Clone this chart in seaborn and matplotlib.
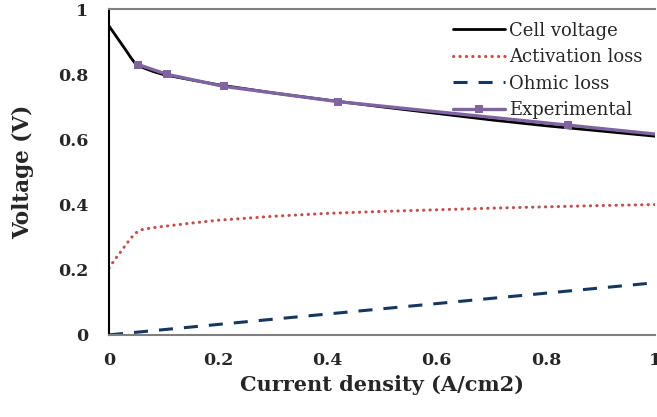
import matplotlib
matplotlib.use("Agg")
import matplotlib.pyplot as plt
import seaborn as sns
import pandas as pd

# Model curves (A/cm2 -> V)
model_current = [0.0, 0.01, 0.02, 0.03, 0.04, 0.05, 0.06, 0.08, 0.1, 0.15,
                 0.2, 0.3, 0.4, 0.5, 0.6, 0.7, 0.8, 0.9, 1.0]
cell_voltage = [0.948, 0.924, 0.900, 0.876, 0.851, 0.829, 0.822, 0.809, 0.799, 0.783,
                0.768, 0.743, 0.721, 0.700, 0.680, 0.660, 0.642, 0.626, 0.610]
activation_loss = [0.205, 0.230, 0.252, 0.275, 0.297, 0.314, 0.323, 0.329, 0.333, 0.343,
                   0.352, 0.364, 0.373, 0.379, 0.384, 0.389, 0.393, 0.397, 0.400]
ohmic_loss = [0.000, 0.0016, 0.0032, 0.0048, 0.0064, 0.008, 0.0096, 0.0128, 0.016, 0.024,
              0.032, 0.048, 0.064, 0.080, 0.096, 0.112, 0.128, 0.144, 0.160]

# Measured polarisation data
exp_current = [0.053, 0.106, 0.21, 0.42, 0.84, 1.05]
exp_voltage = [0.830, 0.800, 0.763, 0.716, 0.644, 0.608]

x_ticks = [0, 0.2, 0.4, 0.6, 0.8, 1]
x_tick_labels = ["0", "0.2", "0.4", "0.6", "0.8", "1"]
y_ticks = [0, 0.2, 0.4, 0.6, 0.8, 1]
y_tick_labels = ["0", "0.2", "0.4", "0.6", "0.8", "1"]

model = pd.DataFrame({"current": model_current, "cell": cell_voltage,
                      "act": activation_loss, "ohm": ohmic_loss})
exp = pd.DataFrame({"current": exp_current, "voltage": exp_voltage})

sns.set_theme(style="white")
plt.rcParams["font.family"] = ["DejaVu Serif"]

fig = plt.figure(figsize=(6.57, 4.17), dpi=100)
ax = fig.add_axes([0.166, 0.197, 0.831, 0.781])

sns.lineplot(data=model, x="current", y="cell", ax=ax, color="black",
             linewidth=2.0, label="Cell voltage")
sns.lineplot(data=model, x="current", y="act", ax=ax, color="#c0504d",
             linewidth=2.2, linestyle=(0, (0.1, 2.0)), dash_capstyle="round",
             label="Activation loss")
sns.lineplot(data=model, x="current", y="ohm", ax=ax, color="#17375e",
             linewidth=2.2, linestyle=(0, (4.6, 3.6)), label="Ohmic loss")
sns.lineplot(data=exp, x="current", y="voltage", ax=ax, color="#8064a2",
             linewidth=2.4, marker="s", markersize=6, markeredgewidth=0,
             label="Experimental")

ax.set_xlim(0, 1)
ax.set_ylim(0, 1)
ax.set_xticks(x_ticks)
ax.set_xticklabels(x_tick_labels)
ax.set_yticks(y_ticks)
ax.set_yticklabels(y_tick_labels)
for lab in ax.get_xticklabels() + ax.get_yticklabels():
    lab.set_fontweight("bold")
    lab.set_fontsize(12.5)

ax.tick_params(axis="both", direction="in", length=6, width=1, color="#555555")
ax.tick_params(axis="y", pad=15)
ax.tick_params(axis="x", pad=12)

ax.set_xlabel("Current density (A/cm2)", fontsize=15, fontweight="bold", labelpad=5)
ax.set_ylabel("Voltage (V)", fontsize=15.5, fontweight="bold", labelpad=17)

for side in ["top", "bottom"]:
    ax.spines[side].set_color("#7f7f7f")
    ax.spines[side].set_linewidth(1.5)
ax.spines["left"].set_color("black")
ax.spines["left"].set_linewidth(1.5)
ax.spines["right"].set_visible(False)

leg = ax.legend(loc="upper right", frameon=False, fontsize=13,
                handlelength=2.9, handletextpad=0.2, labelspacing=0.47,
                borderaxespad=0.3)

fig.savefig("out.png", dpi=100)
